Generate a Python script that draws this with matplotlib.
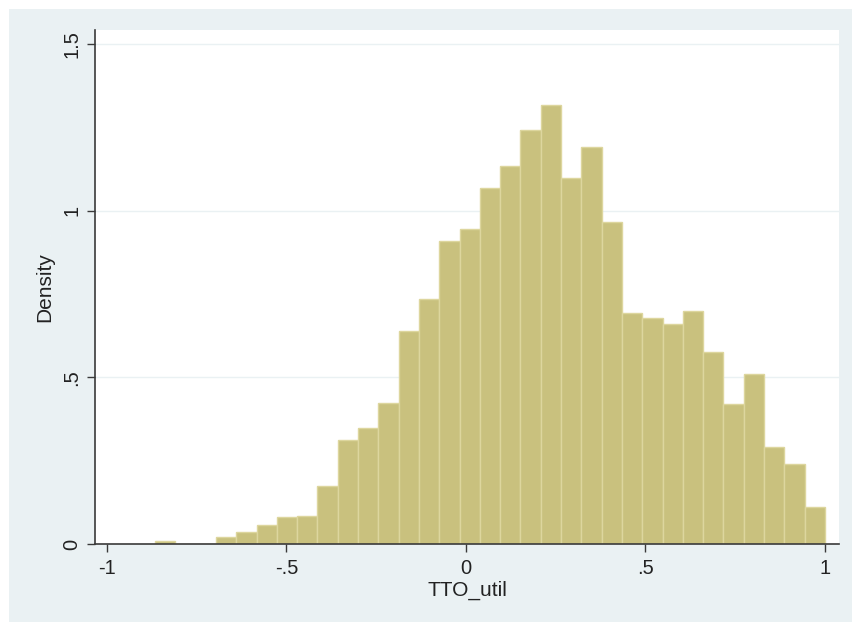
import numpy as np
import matplotlib.pyplot as plt
from matplotlib.patches import Rectangle

plt.rc('font', family='Liberation Sans')

# histogram of TTO_util (density), 33 equal bins from min to max
x_min = -0.866
x_max = 1.0
density = [0.009, 0.0, 0.0, 0.022, 0.037, 0.058, 0.080, 0.085, 0.174, 0.312,
           0.349, 0.422, 0.640, 0.734, 0.909, 0.945, 1.069, 1.135, 1.243, 1.318,
           1.097, 1.192, 0.967, 0.692, 0.677, 0.660, 0.700, 0.575, 0.420, 0.510,
           0.292, 0.240, 0.110]

x_ticks = [-1, -0.5, 0, 0.5, 1]
x_labels = ['-1', '-.5', '0', '.5', '1']
y_ticks = [0, 0.5, 1, 1.5]
y_labels = ['0', '.5', '1', '1.5']

bg = '#EAF1F3'
bar_fill = '#C9C17E'
bar_edge = '#DDD69E'
axis_col = '#3a3a3a'

fig = plt.figure(figsize=(8.52, 6.22), dpi=100)
fig.patch.set_facecolor('white')
# stata graph region (thin white strip on top and left)
fig.patches.append(Rectangle((9 / 852, 0), 1, (622 - 9) / 622, transform=fig.transFigure,
                             facecolor=bg, edgecolor='none', zorder=-5))

ax = fig.add_axes([95 / 852, 78 / 622, (839 - 95) / 852, (544 - 30) / 622])
ax.set_zorder(1)
ax.set_facecolor('white')
ax.set_axisbelow(True)

edges = np.linspace(x_min, x_max, len(density) + 1)
widths = np.diff(edges)
ax.bar(edges[:-1], density, width=widths, align='edge', color=bar_fill,
       edgecolor=bar_edge, linewidth=1.0, zorder=2)

ax.set_xlim(-1.0334, 1.039)
ax.set_ylim(0, 1.542)

ax.set_xticks(x_ticks)
ax.set_xticklabels(x_labels)
ax.set_yticks(y_ticks)
ax.set_yticklabels(y_labels, rotation=90, va='center')

ax.tick_params(axis='both', direction='out', length=6, width=1.0, color=axis_col,
               labelsize=14.5, labelcolor='#222222')
ax.tick_params(axis='x', pad=5)
ax.tick_params(axis='y', pad=4)

# faint horizontal grid
ax.grid(axis='y', color=bg, linewidth=1.0)
ax.grid(axis='x', visible=False)

for s in ['top', 'right']:
    ax.spines[s].set_visible(False)
for s in ['left', 'bottom']:
    ax.spines[s].set_color(axis_col)
    ax.spines[s].set_linewidth(1.2)
    ax.spines[s].set_zorder(3)

ax.set_xlabel('TTO_util', fontsize=15, color='#222222', labelpad=2)
ax.set_ylabel('Density', fontsize=15, color='#222222', labelpad=6)

plt.savefig('out.png', dpi=100, facecolor=fig.get_facecolor())
